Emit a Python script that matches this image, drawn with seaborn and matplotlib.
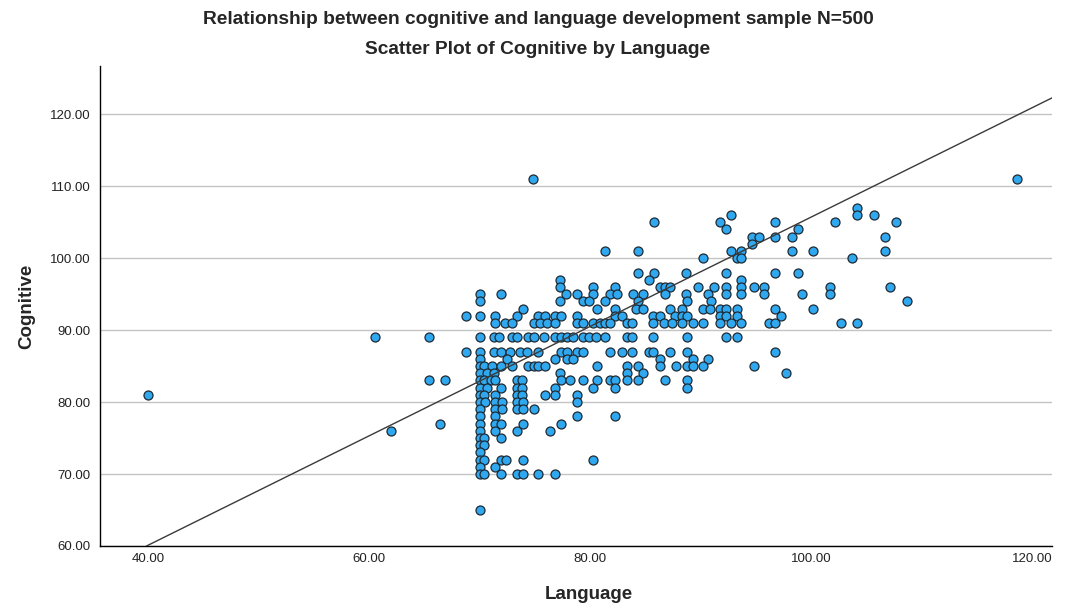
import numpy as np
import pandas as pd
import matplotlib
matplotlib.use("Agg")
import matplotlib.pyplot as plt
import seaborn as sns

# ---- data: (Language, Cognitive), grouped by Cognitive score ----
cog_levels = [111, 107, 106, 105, 104, 103, 102, 101, 100, 98, 97, 96, 95, 94, 93, 92, 91,
              89, 87, 86, 85, 84, 83, 82, 81, 80, 79, 78, 77, 76, 75, 74, 73, 72, 71, 70, 65]
lang_by_level = [
    [74.8, 118.6],
    [104.2],
    [92.8, 104.2, 105.7],
    [85.8, 91.8, 96.7, 102.2, 107.7],
    [92.3, 98.8],
    [94.7, 95.3, 96.7, 98.25, 106.7],
    [94.7],
    [81.35, 84.3, 92.8, 93.7, 98.25, 100.2, 106.7],
    [90.25, 93.3, 93.7, 103.7],
    [84.3, 85.8, 88.7, 92.3, 96.7, 98.8],
    [77.3, 85.3, 93.7],
    [77.3, 80.3, 82.3, 86.3, 86.8, 87.2, 89.8, 91.25, 92.3, 93.7, 94.8, 95.7, 101.7, 107.1],
    [70, 71.9, 77.8, 78.8, 80.3, 81.8, 82.4, 83.9, 84.8, 86.8, 88.7, 90.7, 92.3, 93.7, 95.7, 99.2, 101.7],
    [70, 77.3, 79.4, 79.9, 81.35, 84.3, 88.8, 90.9, 108.65],
    [73.9, 80.6, 82.3, 84.2, 84.8, 87.2, 88.3, 90.25, 90.85, 91.8, 92.3, 93.3, 96.7, 100.2],
    [68.8, 70, 71.4, 73.4, 75.3, 75.9, 76.8, 77.35, 78.8, 82.3, 82.9, 85.7, 86.3, 87.7, 88.3,
     88.8, 91.8, 92.3, 93.3, 97.25],
    [71.4, 72.3, 72.9, 74.9, 75.5, 76.1, 76.8, 78.8, 79.4, 80.3, 80.9, 81.35, 81.8, 83.3, 83.8,
     85.7, 86.7, 87.4, 88.3, 89.3, 90.25, 91.8, 92.8, 93.7, 96.2, 96.7, 102.7, 104.2],
    [60.5, 65.4, 70, 71.3, 71.8, 72.9, 73.4, 74.4, 74.9, 75.8, 76.8, 77.35, 77.9, 78.5, 79.4,
     79.9, 80.5, 81.35, 83.3, 83.8, 85.7, 88.8, 92.3, 93.3],
    [68.8, 70, 71.3, 71.9, 72.8, 73.7, 74.3, 75.3, 77.4, 77.9, 78.8, 79.4, 81.8, 82.9, 83.8,
     85.3, 85.7, 87.2, 88.8, 96.7],
    [70, 72.5, 76.8, 77.9, 78.5, 86.3, 89.3, 90.7],
    [70, 70.4, 71.1, 71.9, 72.9, 74.4, 74.9, 75.3, 75.9, 80.6, 83.3, 84.3, 86.3, 87.8, 88.8,
     89.3, 90.25, 94.8],
    [70, 70.7, 71.3, 77.3, 83.3, 84.8, 97.7],
    [65.4, 66.9, 70, 70.4, 71, 71.4, 73.4, 73.8, 77.4, 78.2, 79.4, 80.6, 81.8, 82.3, 83.3,
     84.3, 86.8, 88.8],
    [70, 70.7, 71.9, 73.4, 73.8, 76.8, 80.3, 82.3, 88.8],
    [40, 70, 70.4, 71.4, 73.4, 73.8, 75.9, 76.8, 78.8],
    [70, 70.5, 71.4, 72, 73.4, 73.9, 78.8],
    [70, 71.4, 72, 73.4, 73.9, 74.9],
    [70, 71.4, 78.8, 82.3],
    [66.4, 70, 71.4, 71.9, 73.9, 77.35],
    [62, 70, 71.4, 73.4, 76.4],
    [70, 70.4, 71.9],
    [70, 70.4],
    [70],
    [70, 70.4, 71.9, 72.4, 73.9, 80.3],
    [70, 71.4],
    [70, 70.4, 71.9, 73.4, 73.9, 75.3, 76.8],
    [70],
]

# Fit line at total (N=500, many points hidden by overlap)
fit_intercept = 29.7
fit_slope = 0.76

x_ticks = [40, 60, 80, 100, 120]
y_ticks = [60, 70, 80, 90, 100, 110, 120]
title_1 = "Relationship between cognitive and language development sample N=500"
title_2 = "Scatter Plot of Cognitive by Language"

language = [x for xs in lang_by_level for x in xs]
cognitive = [c for c, xs in zip(cog_levels, lang_by_level) for _ in xs]
df = pd.DataFrame({"Language": language, "Cognitive": cognitive})

# ---- style ----
sns.set_style("white")
plt.rcParams["font.family"] = ["Liberation Sans", "DejaVu Sans"]

W, H = 1066, 604
fig = plt.figure(figsize=(W / 100, H / 100), dpi=100)
ax = fig.add_axes([100 / W, 1 - 546 / H, (1052 - 100) / W, (546 - 66) / H])

ax.yaxis.grid(True, color="#c4c4c4", linewidth=1.0)
ax.xaxis.grid(False)
ax.set_axisbelow(True)

sns.scatterplot(data=df, x="Language", y="Cognitive", ax=ax, s=42,
                color="#30a8f0", edgecolor="#1e2a33", linewidth=0.9, zorder=3)
ax.axline((0, fit_intercept), slope=fit_slope, color="#3a3a3a", linewidth=1.0, zorder=4)

ax.set_xlim(35.66, 121.8)
ax.set_ylim(60, 126.7)
ax.set_xticks(x_ticks)
ax.set_yticks(y_ticks)
ax.set_xticklabels([f"{v:.2f}" for v in x_ticks], fontsize=9.5)
ax.set_yticklabels([f"{v:.2f}" for v in y_ticks], fontsize=9.5)
ax.tick_params(axis="both", length=0, colors="#222222")
ax.tick_params(axis="x", pad=5)
ax.tick_params(axis="y", pad=7)

for s in ["top", "right"]:
    ax.spines[s].set_visible(False)
for s in ["left", "bottom"]:
    ax.spines[s].set_color("black")
    ax.spines[s].set_linewidth(1.0)

ax.set_xlabel("Language", fontsize=13.5, fontweight="bold")
ax.set_ylabel("Cognitive", fontsize=13.5, fontweight="bold")
ax.xaxis.set_label_coords((589 - 100) / 952, -0.083)
ax.yaxis.set_label_coords(-0.068, 0.5)

fig.text(538 / W, 1 - 20 / H, title_1, ha="center", va="center", fontsize=13.8, fontweight="bold")
fig.text(538 / W, 1 - 50 / H, title_2, ha="center", va="center", fontsize=13.8, fontweight="bold")

fig.savefig("out.png", dpi=100)
